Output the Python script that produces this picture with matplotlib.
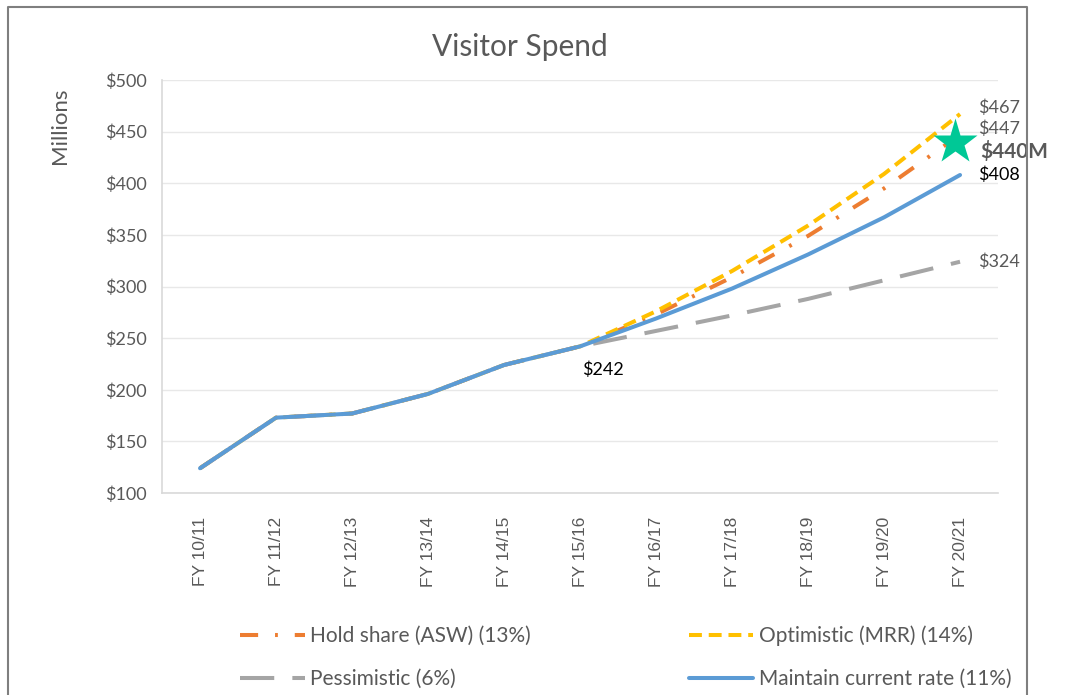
import matplotlib.pyplot as plt
from matplotlib.lines import Line2D
import numpy as np

# fiscal years and spend in $ millions
years = ["FY 10/11", "FY 11/12", "FY 12/13", "FY 13/14", "FY 14/15", "FY 15/16",
         "FY 16/17", "FY 17/18", "FY 18/19", "FY 19/20", "FY 20/21"]
history = [124, 173, 177, 196, 224, 242]

hold_share = history + [273, 309, 349, 395, 447]
optimistic = history + [276, 315, 359, 409, 467]
pessimistic = history + [257, 272, 288, 306, 324]
maintain = history + [269, 298, 331, 367, 408]

target_value = 440
yticks = [100, 150, 200, 250, 300, 350, 400, 450, 500]

GREY_TXT = "#595959"
FONT = "Lato"

fig = plt.figure(figsize=(10.68, 6.95), dpi=100)
ax = fig.add_axes([0.1517, 0.2906, 0.7828, 0.5943])

x = np.arange(len(years))
lw = 2.9

h_hold, = ax.plot(x, hold_share, color="#ED7D31", lw=lw, dashes=(4.5, 4.2, 0.7, 4.2),
                  label="Hold share (ASW) (13%)")
h_opt, = ax.plot(x, optimistic, color="#FFC000", lw=lw, dashes=(3.2, 1.7),
                 label="Optimistic (MRR) (14%)")
h_pes, = ax.plot(x, pessimistic, color="#A5A5A5", lw=lw, dashes=(8.5, 4.5),
                 label="Pessimistic (6%)")
h_main, = ax.plot(x, maintain, color="#5B9BD5", lw=lw, solid_capstyle="round",
                  label="Maintain current rate (11%)")

# target marker
ax.plot([x[-1] - 0.07], [target_value], marker="*", ms=34, color="#00C896",
        mec="none", zorder=5)
ax.annotate(f"${target_value}M", (x[-1], target_value), xytext=(20, -10),
            textcoords="offset pixels", fontsize=15, fontweight="bold",
            color=GREY_TXT, family=FONT, va="center", ha="left")

# end-of-series labels
end_labels = [(optimistic[-1], 6, GREY_TXT), (hold_share[-1], 6, GREY_TXT),
              (maintain[-1], 0, "black"), (pessimistic[-1], 0, GREY_TXT)]
for val, dy, col in end_labels:
    ax.annotate(f"${val}", (x[-1], val), xytext=(18, dy), textcoords="offset pixels",
                fontsize=13, color=col, family=FONT, va="center", ha="left")
ax.annotate(f"${history[-1]}", (x[5], history[-1]), xytext=(23, -23),
            textcoords="offset pixels", fontsize=13, color="black",
            family=FONT, va="center", ha="center")

ax.set_xlim(-0.5, len(years) - 0.5)
ax.set_ylim(100, 500)
ax.set_yticks(yticks)
ax.set_yticklabels([f"${v}" for v in yticks], fontsize=13, color=GREY_TXT, family=FONT)
ax.set_xticks(x)
ax.set_xticklabels(years, rotation=90, fontsize=12.5, color=GREY_TXT,
                   family="Liberation Sans")
ax.tick_params(axis="both", length=0)
ax.tick_params(axis="y", pad=11)
ax.tick_params(axis="x", pad=17)
ax.grid(axis="y", color="#E8E8E8", lw=1)
ax.set_axisbelow(True)
for side in ["top", "right"]:
    ax.spines[side].set_visible(False)
for side in ["left", "bottom"]:
    ax.spines[side].set_color("#D9D9D9")
    ax.spines[side].set_linewidth(1.2)

ax.set_ylabel("Millions", fontsize=16, color=GREY_TXT, family=FONT)
ax.yaxis.set_label_coords(-0.11, 0.89)
fig.text(0.487, 0.932, "Visitor Spend", fontsize=21.5, color=GREY_TXT, family=FONT,
         ha="center", va="center")

# legend rows: hold/optimistic on top, pessimistic/maintain below
leg = fig.legend([h_hold, h_pes, h_opt, h_main],
                 [h.get_label() for h in (h_hold, h_pes, h_opt, h_main)],
                 loc="upper left", bbox_to_anchor=(0.2247, 0.1), ncol=2,
                 frameon=False, handlelength=3.1, handletextpad=0.25,
                 columnspacing=7.6, labelspacing=1.1, borderpad=0, borderaxespad=0,
                 prop={"family": FONT, "size": 15})
for t in leg.get_texts():
    t.set_color(GREY_TXT)

# outer chart border
fig.add_artist(Line2D([0.0075, 0.0075, 0.9616, 0.9616], [0.0, 0.99, 0.99, 0.0],
                      transform=fig.transFigure, color="#7F7F7F", lw=1.5))

fig.savefig("out.png", dpi=100)
